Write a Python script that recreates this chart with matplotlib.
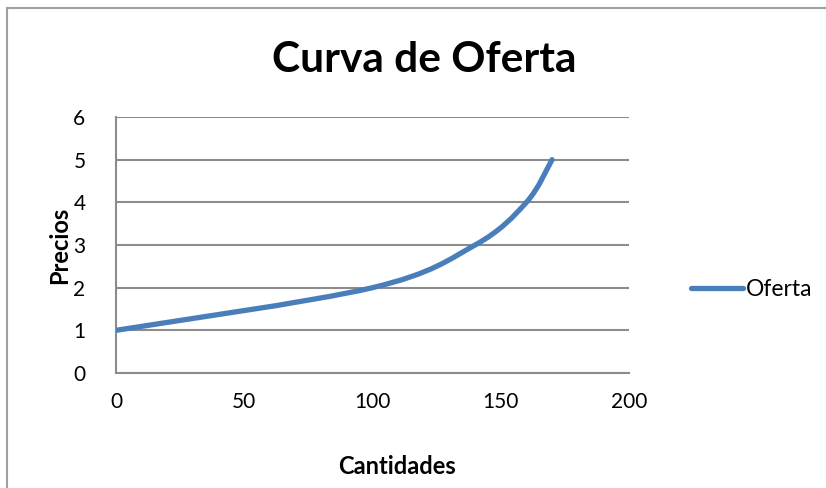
import matplotlib.pyplot as plt
from matplotlib.path import Path
from matplotlib.patches import PathPatch, Rectangle
from matplotlib.lines import Line2D

# supply curve points
cantidades = [0, 100, 140, 160, 170]
precios = [1, 2, 3, 4, 5]
x_ticks = [0, 50, 100, 150, 200]
y_ticks = [0, 1, 2, 3, 4, 5, 6]

LINE_COLOR = "#4A7EBB"
GRID_COLOR = "#8C8C8C"
plt.rcParams['font.family'] = ['Lato', 'DejaVu Sans']


# Excel style smoothed line: cubic bezier segments through the points
def smooth_path(xs, ys):
    pts = list(zip(xs, ys))
    n = len(pts)
    verts = [pts[0]]
    codes = [Path.MOVETO]
    for i in range(n - 1):
        p0 = pts[max(i - 1, 0)]
        p1 = pts[i]
        p2 = pts[i + 1]
        p3 = pts[min(i + 2, n - 1)]
        c1 = (p1[0] + (p2[0] - p0[0]) / 6, p1[1] + (p2[1] - p0[1]) / 6)
        c2 = (p2[0] - (p3[0] - p1[0]) / 6, p2[1] - (p3[1] - p1[1]) / 6)
        verts += [c1, c2, p2]
        codes += [Path.CURVE4] * 3
    return Path(verts, codes)


fig = plt.figure(figsize=(8.26, 4.88), dpi=100)
fig.patches.append(Rectangle((7 / 826, -0.05), 1.2, 1 - 8 / 488 + 0.05, transform=fig.transFigure,
                             fill=False, edgecolor="#A0A0A0", linewidth=1.5))

ax = fig.add_axes([116 / 826, 1 - 373 / 488, (629 - 116) / 826, (373 - 117) / 488])
ax.add_patch(PathPatch(smooth_path(cantidades, precios), fill=False, edgecolor=LINE_COLOR,
                       linewidth=3.8, capstyle='round', joinstyle='round', zorder=3))

ax.set_xlim(0, 200)
ax.set_ylim(0, 6)
ax.set_xticks(x_ticks)
ax.set_yticks(y_ticks)
ax.tick_params(length=0, labelsize=15, pad=14)
ax.tick_params(axis='y', pad=22)
ax.yaxis.grid(True, color=GRID_COLOR, linewidth=1.5)
ax.set_axisbelow(True)
for side in ['top', 'right']:
    ax.spines[side].set_visible(False)
for side in ['left', 'bottom']:
    ax.spines[side].set_color(GRID_COLOR)
    ax.spines[side].set_linewidth(1.5)

fig.text(424 / 826, 1 - 60 / 488, "Curva de Oferta", fontsize=30.5, fontweight='bold',
         ha='center', va='center')
fig.text(397 / 826, 1 - 467 / 488, "Cantidades", fontsize=17, fontweight='bold',
         ha='center', va='center')
fig.text(60 / 826, 1 - 245 / 488, "Precios", fontsize=17, fontweight='bold',
         ha='center', va='center', rotation=90)

handle = Line2D([], [], color=LINE_COLOR, linewidth=3.8, solid_capstyle='round')
fig.legend([handle], ["Oferta"], loc='center left', bbox_to_anchor=(670 / 826, 1 - 290 / 488),
           frameon=False, fontsize=16.5, handlelength=2.3, handletextpad=0.1)

fig.savefig("out.png", dpi=100)
